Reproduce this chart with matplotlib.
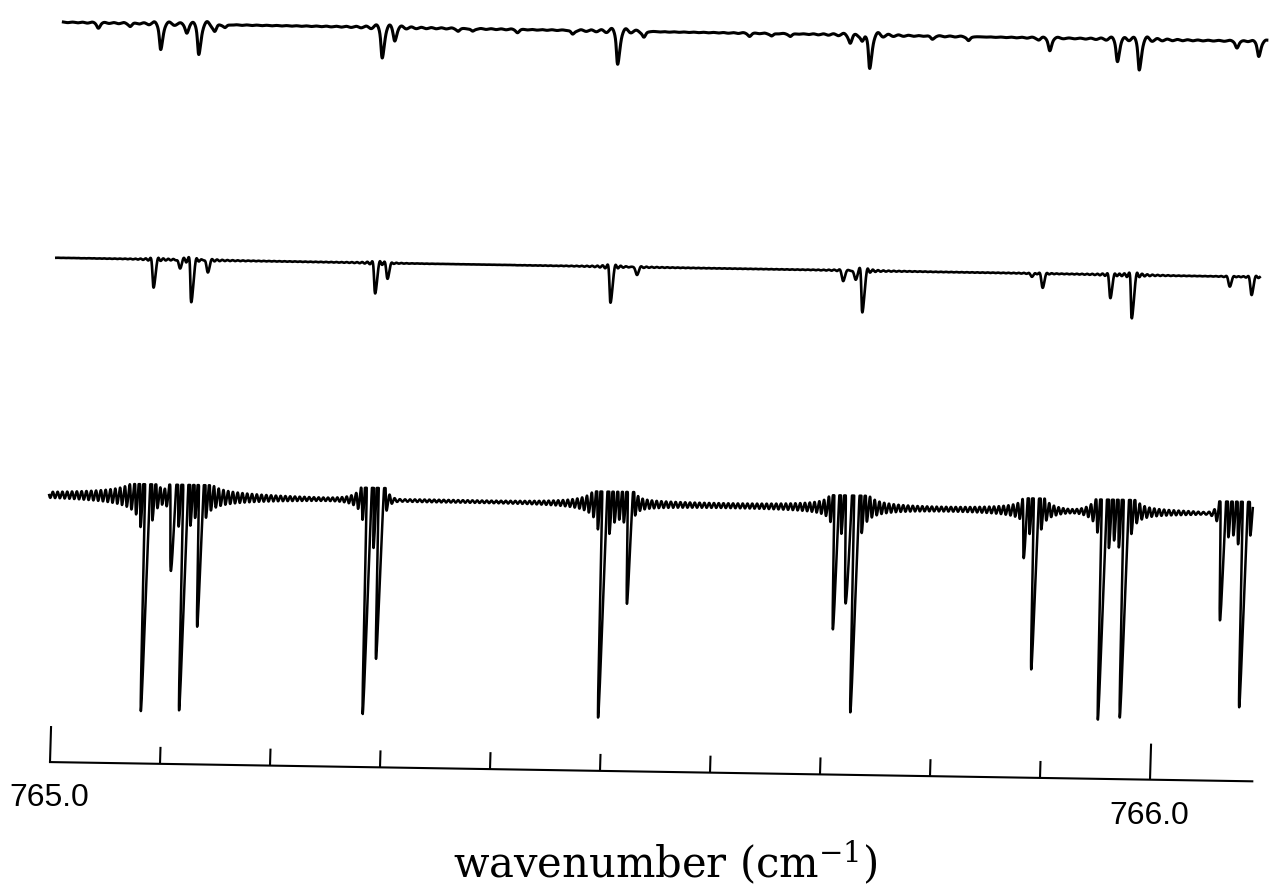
import numpy as np
import matplotlib.pyplot as plt
import matplotlib.transforms as mtransforms

plt.rcParams['mathtext.fontset'] = 'dejavuserif'

# line centres (cm-1)
line_nu = [765.0812, 765.1045, 765.1159, 765.1300, 765.2827, 765.2936,
           765.4968, 765.5200, 765.7077, 765.7186, 765.7259, 765.8791,
           765.8891, 765.9509, 765.9709, 766.0591, 766.0791]

# absorption depths (fraction of continuum) for each trace
depth_top = [0.123, 0.038, 0.142, 0.033, 0.142, 0.057, 0.156, 0.028, 0.038,
             0.038, 0.160, 0.009, 0.061, 0.104, 0.142, 0.033, 0.071]
depth_mid = [0.132, 0.038, 0.198, 0.057, 0.142, 0.071, 0.170, 0.038, 0.052,
             0.042, 0.198, 0.014, 0.066, 0.108, 0.203, 0.047, 0.085]
depth_bot = [1.000, 0.377, 1.000, 0.557, 1.000, 0.745, 0.995, 0.439, 0.538,
             0.538, 0.990, 0.170, 0.736, 0.990, 0.995, 0.514, 0.925]

# weak features only seen in the top trace
weak_nu = [765.024, 765.053, 765.139, 765.351, 765.364, 765.405, 765.455,
           765.616, 765.636, 765.653, 765.782, 765.815]
weak_depth = [0.024, 0.014, 0.014, 0.012, 0.012, 0.014, 0.019,
              0.014, 0.012, 0.012, 0.014, 0.019]

tick_major = [765.0, 766.0]
tick_labels = ['765.0', '766.0']
tick_minor = [765.1, 765.2, 765.3, 765.4, 765.5, 765.6, 765.7, 765.8, 765.9]

nu = np.linspace(764.992, 766.086, 6000)


def profile(centres, depths, fwhm, sinc_w, sinc_frac):
    """Absorption seen through an instrument line shape: gaussian core plus sinc ringing."""
    a = np.zeros_like(nu)
    for c, d in zip(centres, depths):
        dx = nu - c
        g = np.exp(-4 * np.log(2) * (dx / fwhm) ** 2)
        s = np.sinc(dx / sinc_w)
        a += d * ((1 - sinc_frac) * g + sinc_frac * s)
    return a


px = 1 / 1100.0   # cm-1 per pixel along the axis
abs_top = profile(line_nu + weak_nu, depth_top + weak_depth, 3.2 * px, 5 * px, 0.35)
abs_mid = profile(line_nu, depth_mid, 3.5 * px, 2.6 * px, 0.35)
abs_bot = profile(line_nu, depth_bot, 3 * px, 2.4 * px, 1.0)
abs_bot = np.maximum(abs_bot, -0.057)   # recorder clips the overshoot

fig = plt.figure(figsize=(12.7, 8.88), dpi=100)
ax = fig.add_axes([0, 0, 1, 1])
ax.set_xlim(765.0 - 50 * px, 765.0 + 1220 * px)
ax.set_ylim(0, 888 / 212)
ax.axis('off')

axis_y = 0.594
# the chart sits slightly sheared on the page
x0, y0 = ax.transData.transform((765.0, axis_y))
shear = (mtransforms.Affine2D().translate(-x0, -y0)
         .skew(np.arctan(0.03), np.arctan(-0.016))
         .translate(x0, y0))
tr = ax.transData + shear

ax.plot(nu, 4.083 - abs_top, color='black', lw=2.2, transform=tr)
ax.plot(nu, 2.972 - abs_mid, color='black', lw=1.9, transform=tr)
ax.plot(nu, 1.854 - abs_bot, color='black', lw=1.8, transform=tr)

# wavenumber axis
ax.plot([765.0, 766.093], [axis_y, axis_y], color='black', lw=1.5, transform=tr)
ax.vlines(tick_minor, axis_y, axis_y + 0.080, color='black', lw=1.5, transform=tr)
ax.vlines(tick_major, axis_y, axis_y + 0.170, color='black', lw=1.5, transform=tr)
for t, lab in zip(tick_major, tick_labels):
    ax.text(t, 0.425, lab, ha='center', va='center', fontsize=23,
            family='Liberation Sans', transform=tr)

ax.text(765.562, 0.094, r'wavenumber (cm$^{-1}$)', ha='center', va='baseline',
        fontsize=30, family='DejaVu Serif', transform=tr)

fig.savefig('out.png', dpi=100)
